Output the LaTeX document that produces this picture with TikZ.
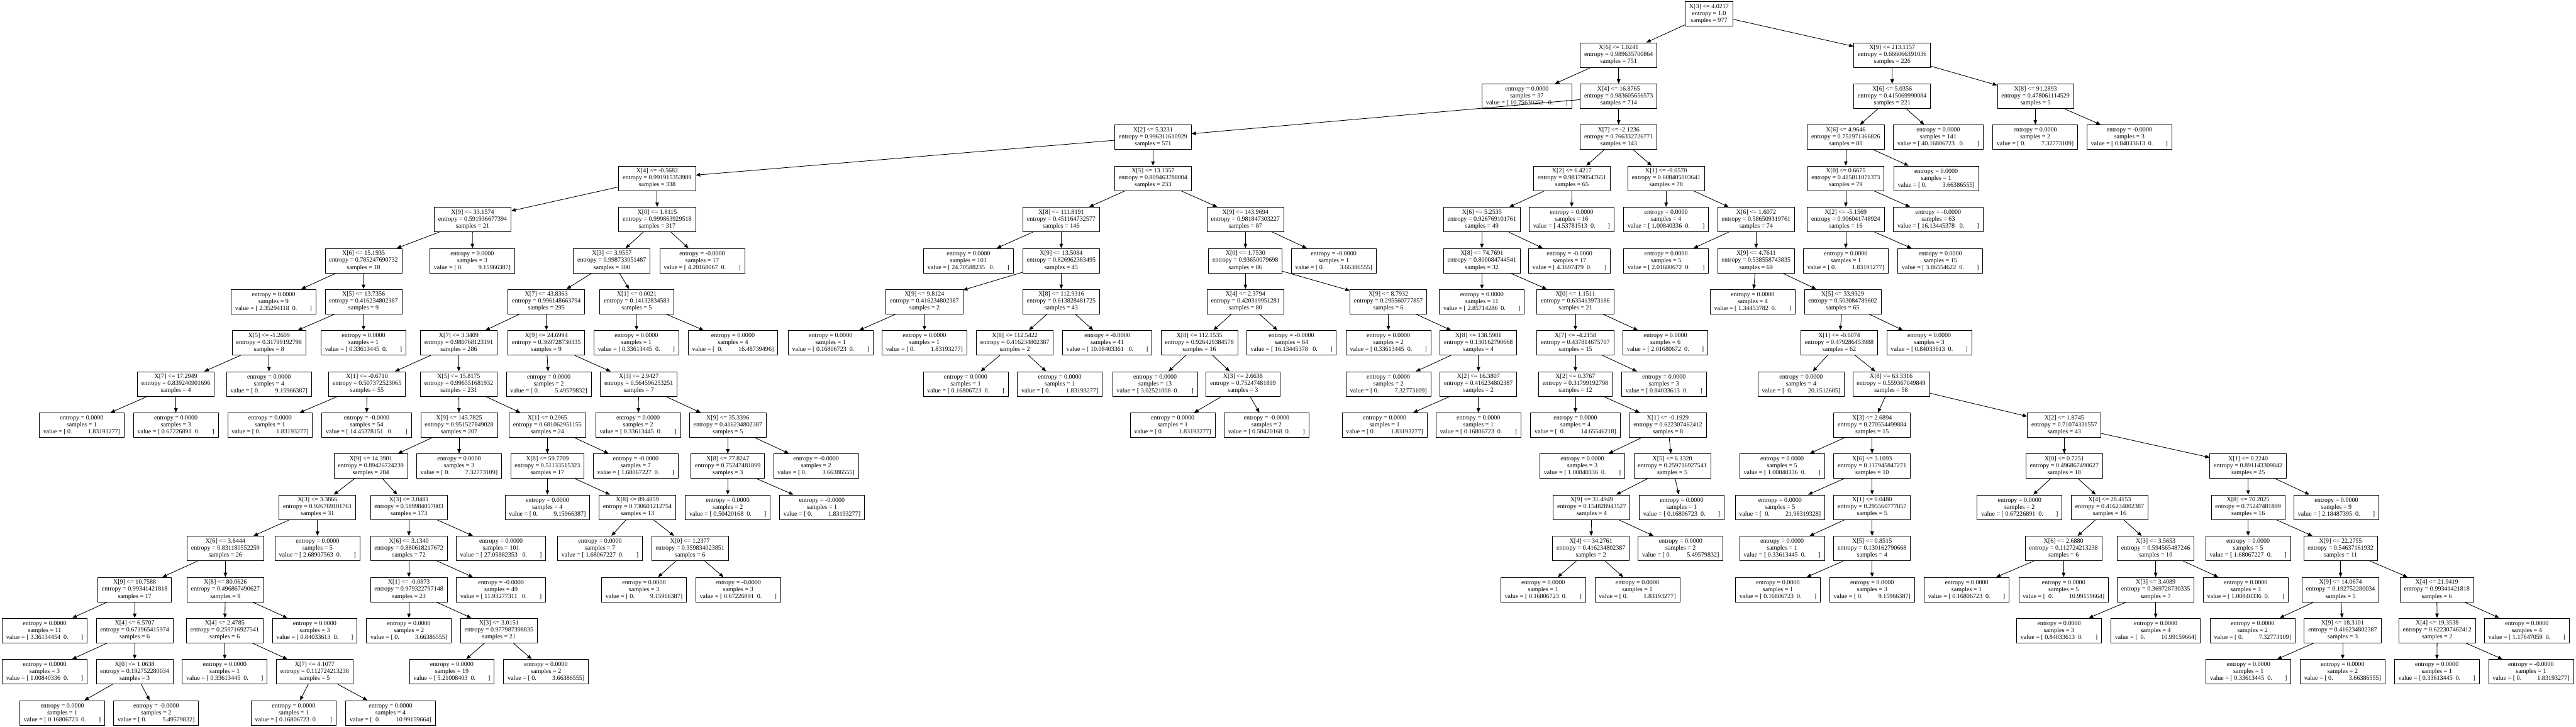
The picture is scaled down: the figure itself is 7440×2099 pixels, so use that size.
\documentclass[tikz,border=0pt]{standalone}
\usepackage{fontspec}
\setmainfont{Liberation Serif}
\usetikzlibrary{arrows.meta}
\newcommand{\treefont}{\fontsize{5.2}{5.69}\selectfont}
\newcommand{\sgap}[1]{\hspace*{#1\fontdimen2\font}}
\newcommand{\valL}[2][2]{value = [\sgap{1}#2\sgap{#1}0.\sgap{8}]}
\newcommand{\valR}[2][1]{value = [\sgap{#1}0.\sgap{10}#2]}

\begin{document}
\begin{tikzpicture}[%
      x=0.01cm, y=-0.01cm,
      splitbox/.style={draw, line width=0.45pt, align=center, font=\treefont,
        inner xsep=0.115cm, inner ysep=0pt, minimum height=0.71cm},
      leafbox/.style={splitbox},
      arr/.style={-{Triangle[length=3.6pt,width=2.9pt]}, line width=0.45pt},
      ]
      \useasboundingbox (0,0) rectangle (7440,2099);

      \node[splitbox] (root) at (4936,40) {X[3] <= 4.0217\\entropy = 1.0\\samples = 977};

      \node[splitbox] (A) at (4675,159) {X[6] <= 1.0241\\entropy = 0.989635700864\\samples = 751};
      \node[splitbox] (B) at (5465,159) {X[9] <= 213.1157\\entropy = 0.666066391036\\samples = 226};

      \node[leafbox] (Al) at (4410,278) {entropy = 0.0000\\samples = 37\\\valL[3]{10.75630252}};
      \node[splitbox] (A2) at (4675,278) {X[4] <= 16.8765\\entropy = 0.983605656573\\samples = 714};
      \node[splitbox] (B1) at (5465,278) {X[6] <= 5.0356\\entropy = 0.415069990084\\samples = 221};
      \node[splitbox] (B2) at (5879,278) {X[8] <= 91.2893\\entropy = 0.478061114529\\samples = 5};

      \node[splitbox] (C) at (3330,396) {X[2] <= 5.3231\\entropy = 0.996311610929\\samples = 571};
      \node[splitbox] (D) at (4675,396) {X[7] <= -2.1236\\entropy = 0.766332726771\\samples = 143};
      \node[splitbox] (E) at (5331,396) {X[6] <= 4.9646\\entropy = 0.751971366826\\samples = 80};
      \node[leafbox] (B1r) at (5598,396) {entropy = 0.0000\\samples = 141\\\valL[3]{40.16806723}};
      \node[leafbox] (B2l) at (5878,396) {entropy = 0.0000\\samples = 2\\\valR{7.32773109}};
      \node[leafbox] (B2r) at (6150,396) {entropy = -0.0000\\samples = 3\\\valL{0.84033613}};

      \node[splitbox] (F) at (1898,515) {X[4] <= -0.5682\\entropy = 0.991915353989\\samples = 338};
      \node[splitbox] (G) at (3330,515) {X[5] <= 13.1357\\entropy = 0.809463788004\\samples = 233};
      \node[splitbox] (H) at (4540,515) {X[2] <= 6.4217\\entropy = 0.981790547651\\samples = 65};
      \node[splitbox] (I) at (4812,515) {X[1] <= -9.0570\\entropy = 0.608405003641\\samples = 78};
      \node[splitbox] (J) at (5331,515) {X[0] <= 0.6675\\entropy = 0.415811071373\\samples = 79};
      \node[leafbox] (Er) at (5592,515) {entropy = 0.0000\\samples = 1\\\valR{3.66386555}};

      \node[splitbox] (L) at (1365,634) {X[9] <= 33.1574\\entropy = 0.591936677394\\samples = 21};
      \node[splitbox] (K) at (1898,634) {X[0] <= 1.8115\\entropy = 0.999863929518\\samples = 317};
      \node[splitbox] (M) at (3065,634) {X[8] <= 111.8191\\entropy = 0.451164732577\\samples = 146};
      \node[splitbox] (N) at (3597,634) {X[9] <= 143.9694\\entropy = 0.981847303227\\samples = 87};
      \node[splitbox] (O) at (4280,634) {X[6] <= 5.2535\\entropy = 0.926769101761\\samples = 49};
      \node[leafbox] (Hr) at (4539,634) {entropy = 0.0000\\samples = 16\\\valL{4.53781513}};
      \node[leafbox] (Il) at (4812,634) {entropy = 0.0000\\samples = 4\\\valL{1.00840336}};
      \node[splitbox] (P) at (5072,634) {X[6] <= 1.6072\\entropy = 0.586509319761\\samples = 74};
      \node[splitbox] (Q) at (5331,634) {X[2] <= -5.1569\\entropy = 0.906041748924\\samples = 16};
      \node[leafbox] (Jr) at (5598,634) {entropy = -0.0000\\samples = 63\\\valL[3]{16.13445378}};

      \node[splitbox] (R) at (1050,753) {X[6] <= 15.1935\\entropy = 0.785247690732\\samples = 18};
      \node[leafbox] (Lr) at (1364,753) {entropy = 0.0000\\samples = 3\\\valR{9.15966387}};
      \node[splitbox] (S) at (1767,753) {X[3] <= 3.9557\\entropy = 0.998733051487\\samples = 300};
      \node[leafbox] (Kr) at (2028,753) {entropy = -0.0000\\samples = 17\\\valL{4.20168067}};
      \node[leafbox] (Ml) at (2797,753) {entropy = 0.0000\\samples = 101\\\valL[3]{24.70588235}};
      \node[splitbox] (T) at (3065,753) {X[9] <= 13.5084\\entropy = 0.826962383495\\samples = 45};
      \node[splitbox] (U) at (3597,753) {X[0] <= 1.7530\\entropy = 0.93650079698\\samples = 86};
      \node[leafbox] (Nr) at (3852,753) {entropy = -0.0000\\samples = 1\\\valR{3.66386555}};
      \node[splitbox] (V) at (4280,753) {X[8] <= 74.7691\\entropy = 0.800084744541\\samples = 32};
      \node[leafbox] (Or) at (4533,753) {entropy = -0.0000\\samples = 17\\\valL{4.3697479}};
      \node[leafbox] (Pl) at (4812,753) {entropy = 0.0000\\samples = 5\\\valL{2.01680672}};
      \node[splitbox] (W) at (5072,753) {X[9] <= 4.7611\\entropy = 0.538558743835\\samples = 69};
      \node[leafbox] (Ql) at (5331,753) {entropy = 0.0000\\samples = 1\\\valR{1.83193277}};
      \node[leafbox] (Qr) at (5604,753) {entropy = 0.0000\\samples = 15\\\valL{3.86554622}};

      \node[leafbox] (Rl) at (790,871) {entropy = 0.0000\\samples = 9\\\valL{2.35294118}};
      \node[splitbox] (X) at (1050,871) {X[5] <= 13.7356\\entropy = 0.416234802387\\samples = 9};
      \node[splitbox] (Y) at (1578,871) {X[7] <= 43.8363\\entropy = 0.996148663794\\samples = 295};
      \node[splitbox] (Z) at (1839,871) {X[1] <= 0.0021\\entropy = 0.14132834583\\samples = 5};
      \node[splitbox] (AA) at (2670,871) {X[9] <= 9.8124\\entropy = 0.416234802387\\samples = 2};
      \node[splitbox] (AB) at (3065,871) {X[8] <= 112.9316\\entropy = 0.613828481725\\samples = 43};
      \node[splitbox] (AC) at (3597,871) {X[4] <= 2.3794\\entropy = 0.420319951281\\samples = 80};
      \node[splitbox] (AD) at (4010,871) {X[9] <= 8.7932\\entropy = 0.295560777857\\samples = 6};
      \node[leafbox] (Vl) at (4280,871) {entropy = 0.0000\\samples = 11\\\valL{2.85714286}};
      \node[splitbox] (AE) at (4550,871) {X[0] <= 1.1511\\entropy = 0.635413973186\\samples = 21};
      \node[leafbox] (Wl) at (5062,871) {entropy = 0.0000\\samples = 4\\\valL{1.34453782}};
      \node[splitbox] (AF) at (5322,871) {X[5] <= 33.9329\\entropy = 0.503084789602\\samples = 65};

      \node[splitbox] (AG) at (777,990) {X[5] <= -1.2609\\entropy = 0.31799192798\\samples = 8};
      \node[leafbox] (Xr) at (1050,990) {entropy = 0.0000\\samples = 1\\\valL{0.33613445}};
      \node[splitbox] (AH) at (1325,990) {X[7] <= 3.3409\\entropy = 0.980768123191\\samples = 286};
      \node[splitbox] (AI) at (1578,990) {X[9] <= 24.6994\\entropy = 0.369728730335\\samples = 9};
      \node[leafbox] (Zl) at (1838,990) {entropy = 0.0000\\samples = 1\\\valL{0.33613445}};
      \node[leafbox] (Zr) at (2117,990) {entropy = 0.0000\\samples = 4\\\valR[2]{16.48739496}};
      \node[leafbox] (AAl) at (2399,990) {entropy = 0.0000\\samples = 1\\\valL{0.16806723}};
      \node[leafbox] (AAr) at (2670,990) {entropy = 0.0000\\samples = 1\\\valR{1.83193277}};
      \node[splitbox] (AJ) at (2931,990) {X[8] <= 112.5422\\entropy = 0.416234802387\\samples = 2};
      \node[leafbox] (ABr) at (3198,990) {entropy = -0.0000\\samples = 41\\\valL[3]{10.08403361}};
      \node[splitbox] (AK) at (3464,990) {X[8] <= 112.1535\\entropy = 0.926429384578\\samples = 16};
      \node[leafbox] (ACr) at (3730,990) {entropy = -0.0000\\samples = 64\\\valL[3]{16.13445378}};
      \node[leafbox] (ADl) at (4010,990) {entropy = 0.0000\\samples = 2\\\valL{0.33613445}};
      \node[splitbox] (AL) at (4270,990) {X[8] <= 138.5981\\entropy = 0.130162790668\\samples = 4};
      \node[splitbox] (AM) at (4550,990) {X[7] <= -4.2158\\entropy = 0.437814675707\\samples = 15};
      \node[leafbox] (AEr) at (4810,990) {entropy = 0.0000\\samples = 6\\\valL{2.01680672}};
      \node[splitbox] (AN) at (5312,990) {X[1] <= -0.6074\\entropy = 0.479286453988\\samples = 62};
      \node[leafbox] (AFr) at (5572,990) {entropy = 0.0000\\samples = 3\\\valL{0.84033613}};

      \node[splitbox] (AO) at (508,1109) {X[7] <= 17.2949\\entropy = 0.839240901696\\samples = 4};
      \node[leafbox] (AGr) at (777,1109) {entropy = 0.0000\\samples = 4\\\valR{9.15966387}};
      \node[splitbox] (AP) at (1060,1109) {X[1] <= -0.6710\\entropy = 0.507372523065\\samples = 55};
      \node[splitbox] (AQ) at (1325,1109) {X[5] <= 15.8175\\entropy = 0.996551681932\\samples = 231};
      \node[leafbox] (AIl) at (1585,1109) {entropy = 0.0000\\samples = 2\\\valR{5.49579832}};
      \node[splitbox] (AR) at (1845,1109) {X[3] <= 2.9427\\entropy = 0.564596253251\\samples = 7};
      \node[leafbox] (AJl) at (2789,1109) {entropy = 0.0000\\samples = 1\\\valL{0.16806723}};
      \node[leafbox] (AJr) at (3061,1109) {entropy = 0.0000\\samples = 1\\\valR{1.83193277}};
      \node[leafbox] (AKl) at (3336,1109) {entropy = 0.0000\\samples = 13\\\valL{3.02521008}};
      \node[splitbox] (AS) at (3590,1109) {X[3] <= 2.6638\\entropy = 0.75247481899\\samples = 3};
      \node[leafbox] (ALl) at (4010,1109) {entropy = 0.0000\\samples = 2\\\valR{7.32773109}};
      \node[splitbox] (AT) at (4270,1109) {X[2] <= 16.3807\\entropy = 0.416234802387\\samples = 2};
      \node[splitbox] (AU) at (4550,1109) {X[2] <= 0.3767\\entropy = 0.31799192798\\samples = 12};
      \node[leafbox] (AMr) at (4806,1109) {entropy = 0.0000\\samples = 3\\\valL{0.84033613}};
      \node[leafbox] (ANl) at (5202,1109) {entropy = 0.0000\\samples = 4\\\valR[2]{20.1512605}};
      \node[splitbox] (AV) at (5462,1109) {X[8] <= 63.3316\\entropy = 0.559367049849\\samples = 58};

      \node[leafbox] (AOl) at (236,1228) {entropy = 0.0000\\samples = 1\\\valR{1.83193277}};
      \node[leafbox] (AOr) at (508,1228) {entropy = 0.0000\\samples = 3\\\valL{0.67226891}};
      \node[leafbox] (APl) at (780,1228) {entropy = 0.0000\\samples = 1\\\valR{1.83193277}};
      \node[leafbox] (APr) at (1059,1228) {entropy = -0.0000\\samples = 54\\\valL[3]{14.45378151}};
      \node[splitbox] (AW) at (1326,1228) {X[9] <= 145.7825\\entropy = 0.951527849028\\samples = 207};
      \node[splitbox] (AX) at (1581,1228) {X[1] <= 0.2965\\entropy = 0.681062951155\\samples = 24};
      \node[leafbox] (ARl) at (1843,1228) {entropy = 0.0000\\samples = 2\\\valL{0.33613445}};
      \node[splitbox] (AY) at (2102,1228) {X[9] <= 35.3396\\entropy = 0.416234802387\\samples = 5};
      \node[leafbox] (ASl) at (3387,1228) {entropy = 0.0000\\samples = 1\\\valR{1.83193277}};
      \node[leafbox] (ASr) at (3658,1228) {entropy = -0.0000\\samples = 2\\\valL{0.50420168}};
      \node[leafbox] (ATl) at (3999,1228) {entropy = 0.0000\\samples = 1\\\valR{1.83193277}};
      \node[leafbox] (ATr) at (4270,1228) {entropy = 0.0000\\samples = 1\\\valL{0.16806723}};
      \node[leafbox] (AUl) at (4550,1228) {entropy = 0.0000\\samples = 4\\\valR[2]{14.65546218}};
      \node[splitbox] (AZ) at (4817,1228) {X[1] <= -0.1929\\entropy = 0.622307462412\\samples = 8};
      \node[splitbox] (BA) at (5407,1228) {X[3] <= 2.6894\\entropy = 0.270554499884\\samples = 15};
      \node[splitbox] (BB) at (5962,1228) {X[2] <= 1.8745\\entropy = 0.71074331557\\samples = 43};

      \node[splitbox] (BC) at (1071,1346) {X[9] <= 14.3901\\entropy = 0.89426724239\\samples = 204};
      \node[leafbox] (AWr) at (1326,1346) {entropy = 0.0000\\samples = 3\\\valR{7.32773109}};
      \node[splitbox] (BD) at (1581,1346) {X[8] <= 59.7709\\entropy = 0.51133515323\\samples = 17};
      \node[leafbox] (AXr) at (1836,1346) {entropy = -0.0000\\samples = 7\\\valL{1.68067227}};
      \node[splitbox] (BE) at (2102,1346) {X[8] <= 77.8247\\entropy = 0.75247481899\\samples = 3};
      \node[leafbox] (AYr) at (2357,1346) {entropy = -0.0000\\samples = 2\\\valR{3.66386555}};
      \node[leafbox] (AZl) at (4570,1346) {entropy = 0.0000\\samples = 3\\\valL{1.00840336}};
      \node[splitbox] (BF) at (4830,1346) {X[5] <= 6.1320\\entropy = 0.259716927541\\samples = 5};
      \node[leafbox] (BAl) at (5147,1346) {entropy = 0.0000\\samples = 5\\\valL{1.00840336}};
      \node[splitbox] (BG) at (5407,1346) {X[6] <= 3.1093\\entropy = 0.117945847271\\samples = 10};
      \node[splitbox] (BH) at (5962,1346) {X[0] <= 0.7251\\entropy = 0.496867490627\\samples = 18};
      \node[splitbox] (BI) at (6493,1346) {X[1] <= 0.2240\\entropy = 0.891143309842\\samples = 25};

      \node[splitbox] (BJ) at (917,1465) {X[3] <= 3.3866\\entropy = 0.926769101761\\samples = 31};
      \node[splitbox] (BK) at (1181,1465) {X[3] <= 3.0481\\entropy = 0.589984057003\\samples = 173};
      \node[leafbox] (BDl) at (1581,1465) {entropy = 0.0000\\samples = 4\\\valR{9.15966387}};
      \node[splitbox] (BL) at (1841,1465) {X[8] <= 89.4859\\entropy = 0.730601212754\\samples = 13};
      \node[leafbox] (BEl) at (2102,1465) {entropy = 0.0000\\samples = 2\\\valL{0.50420168}};
      \node[leafbox] (BEr) at (2374,1465) {entropy = -0.0000\\samples = 1\\\valR{1.83193277}};
      \node[splitbox] (BM) at (4597,1465) {X[9] <= 31.4949\\entropy = 0.154828943527\\samples = 4};
      \node[leafbox] (BFr) at (4857,1465) {entropy = 0.0000\\samples = 1\\\valL{0.16806723}};
      \node[leafbox] (BGl) at (5141,1465) {entropy = 0.0000\\samples = 5\\\valR[2]{21.98319328}};
      \node[splitbox] (BN) at (5407,1465) {X[1] <= 0.0480\\entropy = 0.295560777857\\samples = 5};
      \node[leafbox] (BHl) at (5833,1465) {entropy = 0.0000\\samples = 2\\\valL{0.67226891}};
      \node[splitbox] (BO) at (6093,1465) {X[4] <= 28.4153\\entropy = 0.416234802387\\samples = 16};
      \node[splitbox] (BP) at (6493,1465) {X[8] <= 70.2025\\entropy = 0.75247481899\\samples = 16};
      \node[leafbox] (BIr) at (6748,1465) {entropy = 0.0000\\samples = 9\\\valL{2.18487395}};

      \node[splitbox] (BQ) at (651,1584) {X[6] <= 3.6444\\entropy = 0.831180552259\\samples = 26};
      \node[leafbox] (BJr) at (917,1584) {entropy = 0.0000\\samples = 5\\\valL{2.68907563}};
      \node[splitbox] (BR) at (1181,1584) {X[6] <= 3.1340\\entropy = 0.880618217672\\samples = 72};
      \node[leafbox] (BKr) at (1447,1584) {entropy = 0.0000\\samples = 101\\\valL[3]{27.05882353}};
      \node[leafbox] (BLl) at (1733,1584) {entropy = 0.0000\\samples = 7\\\valL{1.68067227}};
      \node[splitbox] (BS) at (1993,1584) {X[0] <= 1.2377\\entropy = 0.359834023851\\samples = 6};
      \node[splitbox] (BT) at (4595,1584) {X[4] <= 34.2761\\entropy = 0.416234802387\\samples = 2};
      \node[leafbox] (BMr) at (4854,1584) {entropy = 0.0000\\samples = 2\\\valR{5.49579832}};
      \node[leafbox] (BNl) at (5147,1584) {entropy = 0.0000\\samples = 1\\\valL{0.33613445}};
      \node[splitbox] (BU) at (5407,1584) {X[5] <= 0.8515\\entropy = 0.130162790668\\samples = 4};
      \node[splitbox] (BV) at (5960,1584) {X[6] <= 2.6880\\entropy = 0.112724213238\\samples = 6};
      \node[splitbox] (BW) at (6226,1584) {X[3] <= 3.5653\\entropy = 0.594565487246\\samples = 10};
      \node[leafbox] (BPl) at (6493,1584) {entropy = 0.0000\\samples = 5\\\valL{1.68067227}};
      \node[splitbox] (BX) at (6760,1584) {X[9] <= 22.2755\\entropy = 0.54637161932\\samples = 11};

      \node[splitbox] (BY) at (389,1703) {X[9] <= 10.7588\\entropy = 0.99341421818\\samples = 17};
      \node[splitbox] (BZ) at (651,1703) {X[8] <= 80.0626\\entropy = 0.496867490627\\samples = 9};
      \node[splitbox] (CA) at (1181,1703) {X[1] <= -0.0873\\entropy = 0.979322797148\\samples = 23};
      \node[leafbox] (BRr) at (1447,1703) {entropy = -0.0000\\samples = 49\\\valL[3]{11.93277311}};
      \node[leafbox] (BSl) at (1860,1703) {entropy = 0.0000\\samples = 3\\\valR{9.15966387}};
      \node[leafbox] (BSr) at (2132,1703) {entropy = -0.0000\\samples = 3\\\valL{0.67226891}};
      \node[leafbox] (BTl) at (4457,1703) {entropy = 0.0000\\samples = 1\\\valL{0.16806723}};
      \node[leafbox] (BTr) at (4729,1703) {entropy = 0.0000\\samples = 1\\\valR{1.83193277}};
      \node[leafbox] (BUl) at (5135,1703) {entropy = 0.0000\\samples = 1\\\valL{0.16806723}};
      \node[leafbox] (BUr) at (5407,1703) {entropy = 0.0000\\samples = 3\\\valR{9.15966387}};
      \node[leafbox] (BVl) at (5680,1703) {entropy = 0.0000\\samples = 1\\\valL{0.16806723}};
      \node[leafbox] (BVr) at (5960,1703) {entropy = 0.0000\\samples = 5\\\valR[2]{10.99159664}};
      \node[splitbox] (CB) at (6226,1703) {X[3] <= 3.4089\\entropy = 0.369728730335\\samples = 7};
      \node[leafbox] (BWr) at (6486,1703) {entropy = 0.0000\\samples = 3\\\valL{1.00840336}};
      \node[splitbox] (CC) at (6760,1703) {X[9] <= 14.0674\\entropy = 0.192752280034\\samples = 5};
      \node[splitbox] (CD) at (7038,1703) {X[4] <= 21.9419\\entropy = 0.99341421818\\samples = 6};

      \node[leafbox] (BYl) at (129,1821) {entropy = 0.0000\\samples = 11\\\valL{3.36134454}};
      \node[splitbox] (CE) at (389,1821) {X[4] <= 6.5707\\entropy = 0.671965415974\\samples = 6};
      \node[splitbox] (CF) at (649,1821) {X[4] <= 2.4785\\entropy = 0.259716927541\\samples = 6};
      \node[leafbox] (BZr) at (909,1821) {entropy = 0.0000\\samples = 3\\\valL{0.84033613}};
      \node[leafbox] (CAl) at (1181,1821) {entropy = 0.0000\\samples = 2\\\valR{3.66386555}};
      \node[splitbox] (CG) at (1441,1821) {X[3] <= 3.0151\\entropy = 0.977987398835\\samples = 21};
      \node[leafbox] (CBl) at (5947,1821) {entropy = 0.0000\\samples = 3\\\valL{0.84033613}};
      \node[leafbox] (CBr) at (6226,1821) {entropy = 0.0000\\samples = 4\\\valR[2]{10.99159664}};
      \node[leafbox] (CCl) at (6506,1821) {entropy = 0.0000\\samples = 2\\\valR{7.32773109}};
      \node[splitbox] (CH) at (6766,1821) {X[9] <= 18.3101\\entropy = 0.416234802387\\samples = 3};
      \node[splitbox] (CI) at (7039,1821) {X[4] <= 19.3538\\entropy = 0.622307462412\\samples = 2};
      \node[leafbox] (CDr) at (7298,1821) {entropy = 0.0000\\samples = 4\\\valL{1.17647059}};

      \node[leafbox] (CEl) at (129,1940) {entropy = 0.0000\\samples = 3\\\valL{1.00840336}};
      \node[splitbox] (CJ) at (389,1940) {X[0] <= 1.0638\\entropy = 0.192752280034\\samples = 3};
      \node[leafbox] (CFl) at (649,1940) {entropy = 0.0000\\samples = 1\\\valL{0.33613445}};
      \node[splitbox] (CK) at (909,1940) {X[7] <= 4.1077\\entropy = 0.112724213238\\samples = 5};
      \node[leafbox] (CGl) at (1305,1940) {entropy = 0.0000\\samples = 19\\\valL{5.21008403}};
      \node[leafbox] (CGr) at (1577,1940) {entropy = 0.0000\\samples = 2\\\valR{3.66386555}};
      \node[leafbox] (CHl) at (6494,1940) {entropy = 0.0000\\samples = 1\\\valL{0.33613445}};
      \node[leafbox] (CHr) at (6766,1940) {entropy = 0.0000\\samples = 2\\\valR{3.66386555}};
      \node[leafbox] (CIl) at (7038,1940) {entropy = 0.0000\\samples = 1\\\valL{0.33613445}};
      \node[leafbox] (CIr) at (7310,1940) {entropy = -0.0000\\samples = 1\\\valR{1.83193277}};

      \node[leafbox] (CJl) at (180,2059) {entropy = 0.0000\\samples = 1\\\valL{0.16806723}};
      \node[leafbox] (CJr) at (451,2059) {entropy = -0.0000\\samples = 2\\\valR{5.49579832}};
      \node[leafbox] (CKl) at (848,2059) {entropy = 0.0000\\samples = 1\\\valL{0.16806723}};
      \node[leafbox] (CKr) at (1128,2059) {entropy = 0.0000\\samples = 4\\\valR[2]{10.99159664}};

      \draw[arr] (root) -- (A); \draw[arr] (root) -- (B);
      \draw[arr] (A) -- (Al); \draw[arr] (A) -- (A2);
      \draw[arr] (B) -- (B1); \draw[arr] (B) -- (B2);
      \draw[arr] (A2) -- (C); \draw[arr] (A2) -- (D);
      \draw[arr] (B1) -- (E); \draw[arr] (B1) -- (B1r);
      \draw[arr] (B2) -- (B2l); \draw[arr] (B2) -- (B2r);
      \draw[arr] (C) -- (F); \draw[arr] (C) -- (G);
      \draw[arr] (D) -- (H); \draw[arr] (D) -- (I);
      \draw[arr] (E) -- (J); \draw[arr] (E) -- (Er);
      \draw[arr] (F) -- (L); \draw[arr] (F) -- (K);
      \draw[arr] (G) -- (M); \draw[arr] (G) -- (N);
      \draw[arr] (H) -- (O); \draw[arr] (H) -- (Hr);
      \draw[arr] (I) -- (Il); \draw[arr] (I) -- (P);
      \draw[arr] (J) -- (Q); \draw[arr] (J) -- (Jr);
      \draw[arr] (L) -- (R); \draw[arr] (L) -- (Lr);
      \draw[arr] (K) -- (S); \draw[arr] (K) -- (Kr);
      \draw[arr] (M) -- (Ml); \draw[arr] (M) -- (T);
      \draw[arr] (N) -- (U); \draw[arr] (N) -- (Nr);
      \draw[arr] (O) -- (V); \draw[arr] (O) -- (Or);
      \draw[arr] (P) -- (Pl); \draw[arr] (P) -- (W);
      \draw[arr] (Q) -- (Ql); \draw[arr] (Q) -- (Qr);
      \draw[arr] (R) -- (Rl); \draw[arr] (R) -- (X);
      \draw[arr] (S) -- (Y); \draw[arr] (S) -- (Z);
      \draw[arr] (T) -- (AA); \draw[arr] (T) -- (AB);
      \draw[arr] (U) -- (AC); \draw[arr] (U) -- (AD);
      \draw[arr] (V) -- (Vl); \draw[arr] (V) -- (AE);
      \draw[arr] (W) -- (Wl); \draw[arr] (W) -- (AF);
      \draw[arr] (X) -- (AG); \draw[arr] (X) -- (Xr);
      \draw[arr] (Y) -- (AH); \draw[arr] (Y) -- (AI);
      \draw[arr] (Z) -- (Zl); \draw[arr] (Z) -- (Zr);
      \draw[arr] (AA) -- (AAl); \draw[arr] (AA) -- (AAr);
      \draw[arr] (AB) -- (AJ); \draw[arr] (AB) -- (ABr);
      \draw[arr] (AC) -- (AK); \draw[arr] (AC) -- (ACr);
      \draw[arr] (AD) -- (ADl); \draw[arr] (AD) -- (AL);
      \draw[arr] (AE) -- (AM); \draw[arr] (AE) -- (AEr);
      \draw[arr] (AF) -- (AN); \draw[arr] (AF) -- (AFr);
      \draw[arr] (AG) -- (AO); \draw[arr] (AG) -- (AGr);
      \draw[arr] (AH) -- (AP); \draw[arr] (AH) -- (AQ);
      \draw[arr] (AI) -- (AIl); \draw[arr] (AI) -- (AR);
      \draw[arr] (AJ) -- (AJl); \draw[arr] (AJ) -- (AJr);
      \draw[arr] (AK) -- (AKl); \draw[arr] (AK) -- (AS);
      \draw[arr] (AL) -- (ALl); \draw[arr] (AL) -- (AT);
      \draw[arr] (AM) -- (AU); \draw[arr] (AM) -- (AMr);
      \draw[arr] (AN) -- (ANl); \draw[arr] (AN) -- (AV);
      \draw[arr] (AO) -- (AOl); \draw[arr] (AO) -- (AOr);
      \draw[arr] (AP) -- (APl); \draw[arr] (AP) -- (APr);
      \draw[arr] (AQ) -- (AW); \draw[arr] (AQ) -- (AX);
      \draw[arr] (AR) -- (ARl); \draw[arr] (AR) -- (AY);
      \draw[arr] (AS) -- (ASl); \draw[arr] (AS) -- (ASr);
      \draw[arr] (AT) -- (ATl); \draw[arr] (AT) -- (ATr);
      \draw[arr] (AU) -- (AUl); \draw[arr] (AU) -- (AZ);
      \draw[arr] (AV) -- (BA); \draw[arr] (AV) -- (BB);
      \draw[arr] (AW) -- (BC); \draw[arr] (AW) -- (AWr);
      \draw[arr] (AX) -- (BD); \draw[arr] (AX) -- (AXr);
      \draw[arr] (AY) -- (BE); \draw[arr] (AY) -- (AYr);
      \draw[arr] (AZ) -- (AZl); \draw[arr] (AZ) -- (BF);
      \draw[arr] (BA) -- (BAl); \draw[arr] (BA) -- (BG);
      \draw[arr] (BB) -- (BH); \draw[arr] (BB) -- (BI);
      \draw[arr] (BC) -- (BJ); \draw[arr] (BC) -- (BK);
      \draw[arr] (BD) -- (BDl); \draw[arr] (BD) -- (BL);
      \draw[arr] (BE) -- (BEl); \draw[arr] (BE) -- (BEr);
      \draw[arr] (BF) -- (BM); \draw[arr] (BF) -- (BFr);
      \draw[arr] (BG) -- (BGl); \draw[arr] (BG) -- (BN);
      \draw[arr] (BH) -- (BHl); \draw[arr] (BH) -- (BO);
      \draw[arr] (BI) -- (BP); \draw[arr] (BI) -- (BIr);
      \draw[arr] (BJ) -- (BQ); \draw[arr] (BJ) -- (BJr);
      \draw[arr] (BK) -- (BR); \draw[arr] (BK) -- (BKr);
      \draw[arr] (BL) -- (BLl); \draw[arr] (BL) -- (BS);
      \draw[arr] (BM) -- (BT); \draw[arr] (BM) -- (BMr);
      \draw[arr] (BN) -- (BNl); \draw[arr] (BN) -- (BU);
      \draw[arr] (BO) -- (BV); \draw[arr] (BO) -- (BW);
      \draw[arr] (BP) -- (BPl); \draw[arr] (BP) -- (BX);
      \draw[arr] (BQ) -- (BY); \draw[arr] (BQ) -- (BZ);
      \draw[arr] (BR) -- (CA); \draw[arr] (BR) -- (BRr);
      \draw[arr] (BS) -- (BSl); \draw[arr] (BS) -- (BSr);
      \draw[arr] (BT) -- (BTl); \draw[arr] (BT) -- (BTr);
      \draw[arr] (BU) -- (BUl); \draw[arr] (BU) -- (BUr);
      \draw[arr] (BV) -- (BVl); \draw[arr] (BV) -- (BVr);
      \draw[arr] (BW) -- (CB); \draw[arr] (BW) -- (BWr);
      \draw[arr] (BX) -- (CC); \draw[arr] (BX) -- (CD);
      \draw[arr] (BY) -- (BYl); \draw[arr] (BY) -- (CE);
      \draw[arr] (BZ) -- (CF); \draw[arr] (BZ) -- (BZr);
      \draw[arr] (CA) -- (CAl); \draw[arr] (CA) -- (CG);
      \draw[arr] (CB) -- (CBl); \draw[arr] (CB) -- (CBr);
      \draw[arr] (CC) -- (CCl); \draw[arr] (CC) -- (CH);
      \draw[arr] (CD) -- (CI); \draw[arr] (CD) -- (CDr);
      \draw[arr] (CE) -- (CEl); \draw[arr] (CE) -- (CJ);
      \draw[arr] (CF) -- (CFl); \draw[arr] (CF) -- (CK);
      \draw[arr] (CG) -- (CGl); \draw[arr] (CG) -- (CGr);
      \draw[arr] (CH) -- (CHl); \draw[arr] (CH) -- (CHr);
      \draw[arr] (CI) -- (CIl); \draw[arr] (CI) -- (CIr);
      \draw[arr] (CJ) -- (CJl); \draw[arr] (CJ) -- (CJr);
      \draw[arr] (CK) -- (CKl); \draw[arr] (CK) -- (CKr);
      \end{tikzpicture}
\end{document}
